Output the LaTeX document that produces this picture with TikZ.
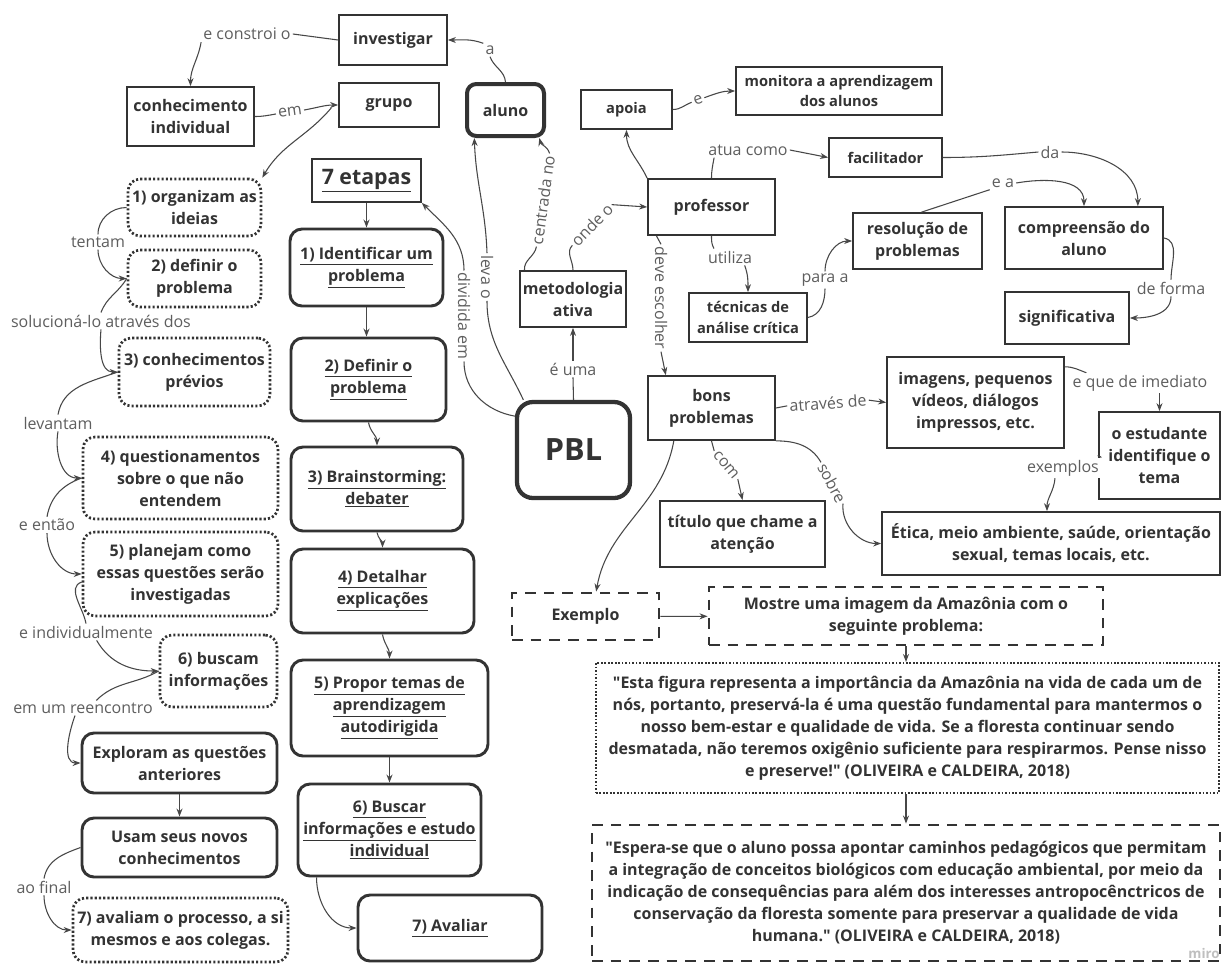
\documentclass[tikz,border=0pt]{standalone}
\usepackage{fontspec}
\setmainfont{Open Sans}[Ligatures=TeXOff]
\usetikzlibrary{arrows.meta}
\definecolor{bc}{HTML}{333333}
\definecolor{tc}{HTML}{333333}
\definecolor{lc}{HTML}{474747}
\definecolor{lt}{HTML}{5E5E5E}
\newcommand{\ulx}[1]{\underline{#1}}
\tikzset{
 base/.style={align=center, text=tc, font=\fontsize{12}{16.5}\selectfont\bfseries, inner sep=0pt, fill=white},
 small/.style={font=\fontsize{11}{15.5}\selectfont\bfseries},
 box/.style={base, draw=bc, line width=1.3pt},
 rbox/.style={base, draw=bc, line width=2.2pt, rounded corners=9pt},
 dbox/.style={base, draw=bc, line width=2pt, dash pattern=on 1.6pt off 1.6pt, rounded corners=9pt},
 dashbox/.style={base, draw=bc, line width=2.2pt, dash pattern=on 8pt off 6pt},
 fdot/.style={base, draw=bc, line width=1.5pt, dash pattern=on 1.3pt off 1.3pt},
 lbl/.style={text=lt, font=\fontsize{12}{14}\selectfont, inner sep=1.5pt, fill=white},
 con/.style={draw=lc, line width=0.8pt},
 arr/.style={con, -{Stealth[length=6pt,width=4.5pt]}},
 wh/.style 2 args={minimum width=#1*0.75pt, minimum height=#2*0.75pt},
}
\begin{document}
\begin{tikzpicture}[x=0.75pt,y=0.75pt]
\fill[white] (0,0) rectangle (1222,-965);
\useasboundingbox (0,0) rectangle (1222,-965);

% ---------- nodes ----------
\node[box, wh={108}{50}] (inv) at (393,-40) {investigar};
\node[box, wh={127}{59}] (conh) at (190.5,-116.5) {conhecimento\\individual};
\node[box, wh={100}{44}] (grupo) at (389,-105) {grupo};
\node[base, draw=bc, line width=3pt, rounded corners=7pt, wh={77}{52}] (aluno) at (505.5,-110) {aluno};
\node[box, wh={109}{43}, font=\fontsize{16}{20}\selectfont\bfseries] (etapas) at (366.5,-180.5) {\ulx{7 etapas}};
\node[dbox, wh={133}{57}] (org) at (194.5,-207.5) {1) organizam as\\ideias};
\node[dbox, wh={133}{57}] (def2) at (194.5,-278.5) {2) definir o\\problema};
\node[rbox, wh={153}{77}] (id1) at (366.5,-267.5) {\ulx{1) Identificar um}\\\ulx{problema}};
\node[box, small, wh={91}{39}] (apoia) at (626.5,-109.5) {apoia};
\node[box, small, wh={206}{48}] (monit) at (839,-91) {monitora a aprendizagem\\dos alunos};
\node[box, small, wh={113}{39}] (facil) at (885.5,-157.5) {facilitador};
\node[box, wh={127}{56}] (prof) at (711.5,-207) {professor};
\node[box, wh={106}{56}] (metod) at (573,-299) {metodologia\\ativa};
\node[box, small, wh={118}{49}] (tec) at (748,-317.5) {técnicas de\\análise crítica};
\node[box, wh={129}{56}] (resol) at (917.5,-241) {resolução de\\problemas};
\node[box, wh={158}{62}] (compr) at (1084,-238) {compreensão do\\aluno};
\node[box, wh={124}{52}] (signif) at (1067,-318) {significativa};
\node[base, draw=bc, line width=3.2pt, rounded corners=12pt, wh={113}{96}, font=\fontsize{23}{28}\selectfont\bfseries] (pbl) at (573.5,-450) {PBL};
\node[box, wh={127}{64}] (bons) at (711.5,-408) {bons\\problemas};
\node[box, wh={177}{91}] (imgs) at (975.5,-402.5) {imagens, pequenos\\vídeos, diálogos\\impressos, etc.};
\node[box, wh={121}{87}] (estud) at (1159.5,-455.5) {o estudante\\identifique o\\tema};
\node[box, wh={338}{63}] (etica) at (1051,-543.5) {Ética, meio ambiente, saúde, orientação\\sexual, temas locais, etc.};
\node[box, wh={165}{66}] (titulo) at (742.5,-534) {título que chame a\\atenção};
\node[dashbox, wh={147}{47}] (exemplo) at (585.5,-616.5) {Exemplo};
\node[dashbox, wh={394}{58}] (mostre) at (906,-616) {Mostre uma imagem da Amazônia com o\\seguinte problema:};
\node[fdot, wh={623}{130}] (esta) at (907.5,-728) {"Esta figura representa a importância da Amazônia na vida de cada um de\\nós, portanto, preservá-la é uma questão fundamental para mantermos o\\nosso bem-estar e qualidade de vida. Se a floresta continuar sendo\\desmatada, não teremos oxigênio suficiente para respirarmos. Pense nisso\\e preserve!" (OLIVEIRA e CALDEIRA, 2018)};
\node[dashbox, wh={628}{136}] (espera) at (906,-893) {"Espera-se que o aluno possa apontar caminhos pedagógicos que permitam\\a integração de conceitos biológicos com educação ambiental, por meio da\\indicação de consequências para além dos interesses antropocênctricos de\\conservação da floresta somente para preservar a qualidade de vida\\humana." (OLIVEIRA e CALDEIRA, 2018)};
\node[dbox, wh={151}{68}] (conhprev) at (194.5,-372) {3) conhecimentos\\prévios};
\node[dbox, wh={195}{82}] (quest) at (180.5,-478) {4) questionamentos\\sobre o que não\\entendem};
\node[dbox, wh={195}{84}] (planej) at (180.5,-574) {5) planejam como\\essas questões serão\\investigadas};
\node[dbox, wh={117}{72}] (busc6) at (218.5,-671) {6) buscam\\informações};
\node[rbox, wh={195}{60}] (explor) at (179.5,-763) {Exploram as questões\\anteriores};
\node[rbox, wh={195}{59}] (usam) at (179.5,-847.5) {Usam seus novos\\conhecimentos};
\node[dbox, wh={215}{64}] (aval7) at (180.5,-930) {7) avaliam o processo, a si\\mesmos e aos colegas.};
\node[rbox, wh={155}{83}] (def2c) at (368.5,-379.5) {\ulx{2) Definir o}\\\ulx{problema}};
\node[rbox, wh={172}{84}] (brain) at (377,-489) {\ulx{3) Brainstorming:}\\\ulx{debater}};
\node[rbox, wh={183}{84}] (detal) at (382.5,-591) {\ulx{4) Detalhar}\\\ulx{explicações}};
\node[rbox, wh={197}{96}] (propor) at (389.5,-708) {\ulx{5) Propor temas de}\\\ulx{aprendizagem}\\\ulx{autodirigida}};
\node[rbox, wh={183}{92}] (buscar6) at (389.5,-830) {\ulx{6) Buscar}\\\ulx{informações e estudo}\\\ulx{individual}};
\node[rbox, wh={184}{66}] (avaliar) at (450,-928) {\ulx{7) Avaliar}};

% ---------- labels ----------
\node[lbl] (lb_constroi) at (247,-34) {e constroi o};
\node[lbl, rotate=8] (lb_em) at (290,-112) {em};
\node[lbl] (lb_tentam) at (98,-242) {tentam};
\node[lbl] (lb_soluc) at (101,-321) {solucioná-lo através dos};
\node[lbl] (lb_levantam) at (58,-423) {levantam};
\node[lbl] (lb_entao) at (47,-525) {e então};
\node[lbl] (lb_indiv) at (86,-632) {e individualmente};
\node[lbl] (lb_reenc) at (83,-708) {em um reencontro};
\node[lbl] (lb_final) at (44,-887) {ao final};
\node[lbl] (lb_a) at (490,-50) {a};
\node[lbl, rotate=-90] (lb_divid) at (464,-316) {dividida em};
\node[lbl, rotate=-90] (lb_leva) at (487,-277) {leva o};
\node[lbl, rotate=82] (lb_centr) at (543,-200) {centrada no};
\node[lbl, rotate=46] (lb_onde) at (592,-225) {onde o};
\node[lbl] (lb_eum) at (573,-369) {é uma};
\node[lbl, rotate=20] (lb_e) at (698,-100) {e};
\node[lbl] (lb_atua) at (748,-150) {atua como};
\node[lbl] (lb_utiliza) at (730,-257) {utiliza};
\node[lbl, rotate=-90] (lb_deve) at (661,-298) {deve escolher};
\node[lbl] (lb_para) at (825,-280) {para a};
\node[lbl] (lb_ea) at (1003,-183) {e a};
\node[lbl] (lb_da) at (1050,-152) {da};
\node[lbl] (lb_forma) at (1171,-288) {de forma};
\node[lbl, rotate=4] (lb_atraves) at (828,-403) {através de};
\node[lbl] (lb_imed) at (1140,-383) {e que de imediato};
\node[lbl] (lb_exempl) at (1063,-468) {exemplos};
\node[lbl, rotate=-50] (lb_com) at (726,-465) {com};
\node[lbl, rotate=-62] (lb_sobre) at (832,-483) {sobre};
\node[text=black!25, font=\fontsize{10}{12}\selectfont\bfseries, inner sep=0pt] (miro) at (1204,-953) {miro};

% ---------- connectors ----------
\draw[con] (inv.west) -- (lb_constroi.east);
\draw[arr] (lb_constroi.south west) to[out=-100,in=90] (conh.north);
\draw[con] (conh.east) to[out=0,in=190] (lb_em.west);
\draw[arr] (lb_em.east) to[out=10,in=180] (grupo.west);
\draw[arr] ([xshift=-5pt,yshift=-2pt]grupo.west) to[out=-130,in=60] (org.north east);
\draw[con] (org.west) to[out=180,in=90] (lb_tentam.north);
\draw[arr] (lb_tentam.south) to[out=-90,in=180] (def2.west);
\draw[con] (def2.west) to[out=-120,in=70] (lb_soluc.north);
\draw[arr] (lb_soluc.south) to[out=-95,in=180] (conhprev.west);
\draw[con] (conhprev.west) to[out=200,in=80] (lb_levantam.north);
\draw[arr] (lb_levantam.south) to[out=-100,in=180] (quest.west);
\draw[con] (quest.west) to[out=200,in=80] (lb_entao.north);
\draw[arr] (lb_entao.south) to[out=-90,in=180] (planej.west);
\draw[con] ([yshift=-6pt]planej.west) to[out=200,in=100] (lb_indiv.north);
\draw[arr] ([xshift=8pt]lb_indiv.south) to[out=-60,in=180] (busc6.west);
\draw[con] (busc6.west) to[out=210,in=45] ([xshift=10pt]lb_reenc.north);
\draw[arr] ([xshift=-6pt]lb_reenc.south) to[out=-110,in=180] (explor.west);
\draw[arr] (explor) -- (usam);
\draw[con] (usam.west) to[out=200,in=80] (lb_final.north);
\draw[arr] (lb_final.south) to[out=-90,in=180] (aval7.west);

\draw[arr] (etapas) -- (id1);
\draw[arr] (id1.south) -- (id1.south |- def2c.north);
\draw[arr] (def2c.south) to[out=-80,in=90] (brain.north);
\draw[arr] (brain.south) to[out=-80,in=90] (detal.north);
\draw[arr] (detal.south) to[out=-80,in=90] (propor.north);
\draw[arr] (propor) -- (buscar6);
\draw[arr] ([xshift=15pt]buscar6.south west) to[out=-90,in=180] (avaliar.west);

\draw[con] (pbl.north) -- (lb_eum.south);
\draw[arr] (lb_eum.north) -- (metod.south);
\draw[con] (pbl.150) to[out=170,in=-90] (lb_divid.east);
\draw[arr] (lb_divid.west) to[out=90,in=-45] (etapas.south east);
\draw[con] (pbl.135) to[out=115,in=-90] (lb_leva.east);
\draw[arr] (lb_leva.west) to[out=92,in=-88] ([xshift=7pt]aluno.south west);
\draw[con] ([xshift=4pt]metod.north west) to[out=95,in=-100] (lb_centr.west);
\draw[arr] (lb_centr.east) to[out=105,in=-75] ([xshift=-5pt]aluno.south east);
\draw[con] (metod.north) to[out=90,in=-135] (lb_onde.west);
\draw[arr] (lb_onde.east) -- (prof.west);
\draw[con] (aluno.north) to[out=95,in=-70] (lb_a.south);
\draw[arr] (lb_a.north west) to[out=160,in=0] (inv.east);
\draw[arr] (prof.north west) to[out=115,in=-90] (apoia.south);
\draw[con] (apoia.east) to[out=0,in=-160] (lb_e.west);
\draw[arr] (lb_e.east) to[out=20,in=180] (monit.west);
\draw[con] (prof.north) to[out=90,in=-100] ([xshift=6pt]lb_atua.south west);
\draw[arr] (lb_atua.east) -- (facil.west);
\draw[con] (prof.south) to[out=-90,in=120] ([xshift=-12pt]lb_utiliza.north);
\draw[arr] ([xshift=11pt]lb_utiliza.south) to[out=-70,in=90] (tec.north);
\draw[con] ([xshift=7pt]prof.south west) -- (lb_deve.west);
\draw[arr] (lb_deve.east) -- ([xshift=14pt]bons.north west);
\draw[con] (tec.east) to[out=10,in=-90] (lb_para.south);
\draw[arr] (lb_para.north) to[out=90,in=180] (resol.west);
\draw[con] ([xshift=3pt]resol.north) -- (lb_ea.south west);
\draw[arr] (lb_ea.east) to[out=10,in=90] (compr.north);
\draw[con] (facil.east) to[out=0,in=185] (lb_da.west);
\draw[arr] (lb_da.east) to[out=0,in=90] ([xshift=-19.5pt]compr.north east);
\draw[con] (compr.east) to[out=-10,in=90] (lb_forma.north);
\draw[arr] (lb_forma.south) to[out=-90,in=0] (signif.east);

\draw[con] (bons.east) -- (lb_atraves.west);
\draw[arr] (lb_atraves.east) -- (imgs.west);
\draw[con] ([yshift=-8pt]imgs.north east) to[out=0,in=160] ([xshift=12pt]lb_imed.north west);
\draw[arr] (lb_imed.south -| estud.north) -- (estud.north);
\draw[con] (estud.west) to[out=180,in=70] (lb_exempl.north east);
\draw[arr] ([xshift=-6pt]lb_exempl.south) to[out=-95,in=90] ([xshift=-3pt]etica.north);
\draw[con] (bons.south) -- (lb_com.west);
\draw[arr] (lb_com.east) -- (titulo.north);
\draw[con] (bons.south east) to[out=0,in=120] (lb_sobre.west);
\draw[arr] (lb_sobre.east) to[out=-95,in=180] (etica.west);
\draw[arr] ([xshift=20pt]bons.south west) to[out=-100,in=80] ([xshift=8pt]exemplo.north);
\draw[arr] (exemplo) -- (mostre);
\draw[arr] (mostre.south) -- (mostre.south |- esta.north);
\draw[arr] (mostre.south |- esta.south) -- (mostre.south |- espera.north);
\end{tikzpicture}
\end{document}
